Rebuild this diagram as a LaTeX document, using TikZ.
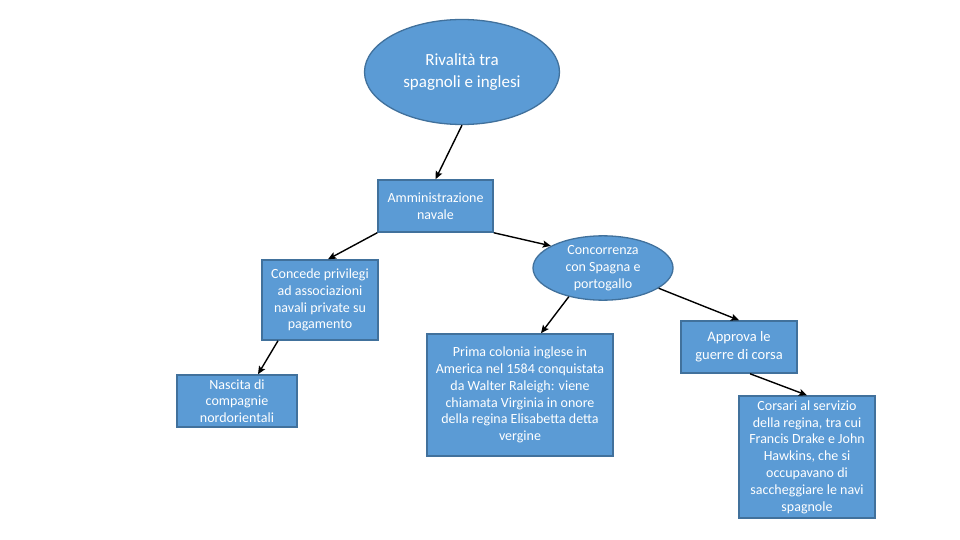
\documentclass[tikz,border=0pt]{standalone}
\usepackage{fontspec}
\setmainfont{Carlito}
\usepackage{xcolor}
\usetikzlibrary{arrows.meta,positioning,shapes.geometric}
\definecolor{boxblue}{HTML}{5B9BD5}
\definecolor{boxedge}{HTML}{41719C}
\tikzset{%
   ell/.style={
      ellipse,
      draw=boxedge,
      line width=1.3pt,
      fill=boxblue,
      text=white,
      align=center,
      inner sep=0pt
   },
   blk/.style={
      rectangle,
      draw=boxedge,
      line width=1.5pt,
      fill=boxblue,
      text=white,
      align=center,
      inner sep=0pt,
      font=\fontsize{14}{16.8}\selectfont
   },
   arr/.style={
      draw=black,
      line width=1.4pt,
      -{Stealth[length=8pt,width=7pt,inset=1.5pt]}
   },
}
\begin{document}
\begin{tikzpicture}[x=1pt, y=-1pt]
   \fill[white] (0,0) rectangle (960,540);
   \useasboundingbox (0,0) rectangle (960,540);
   \node[ell, minimum width=195pt, minimum height=105pt,
         font=\fontsize{17}{22}\selectfont] (top) at (462,72)
      {Rivalità tra\\spagnoli e inglesi};
   \node[blk, minimum width=115pt, minimum height=52pt] (amm) at (435.5,206)
      {Amministrazione\\navale};
   \node[blk, minimum width=116pt, minimum height=80pt] (priv) at (320,300)
      {Concede privilegi\\ad associazioni\\navali private su\\pagamento};
   \node[blk, minimum width=120pt, minimum height=52pt] (nasc) at (237,401)
      {Nascita di\\compagnie\\nordorientali};
   \node[ell, minimum width=140pt, minimum height=60pt,
         font=\fontsize{14}{17}\selectfont] (conc) at (603,268)
      {Concorrenza\\con Spagna e\\portogallo};
   \node[blk, minimum width=186pt, minimum height=122pt] (prima) at (520,395)
      {Prima colonia inglese in\\America nel 1584 conquistata\\da Walter Raleigh: viene\\chiamata Virginia in onore\\della regina Elisabetta detta\\vergine};
   \node[blk, minimum width=116pt, minimum height=52pt,
         font=\fontsize{14.5}{18}\selectfont] (appr) at (739,347)
      {Approva le\\guerre di corsa};
   \node[blk, minimum width=136pt, minimum height=122pt] (cors) at (807,457)
      {Corsari al servizio\\della regina, tra cui\\Francis Drake e John\\Hawkins, che si\\occupavano di\\saccheggiare le navi\\spagnole};
   % collegamenti
   \draw[arr] (top.south) -- (amm.north);
   \draw[arr] (amm.south west) -- ([xshift=8pt]priv.north);
   \draw[arr] ([xshift=-42pt]priv.south) -- ([xshift=21pt]nasc.north);
   \draw[arr] (amm.south east) -- (conc.157);
   \draw[arr] (conc.220) -- ([xshift=21pt]prima.north);
   \draw[arr] (conc.340) -- (appr.north);
   \draw[arr] ([xshift=11pt]appr.south) -- (cors.north);
\end{tikzpicture}
\end{document}
